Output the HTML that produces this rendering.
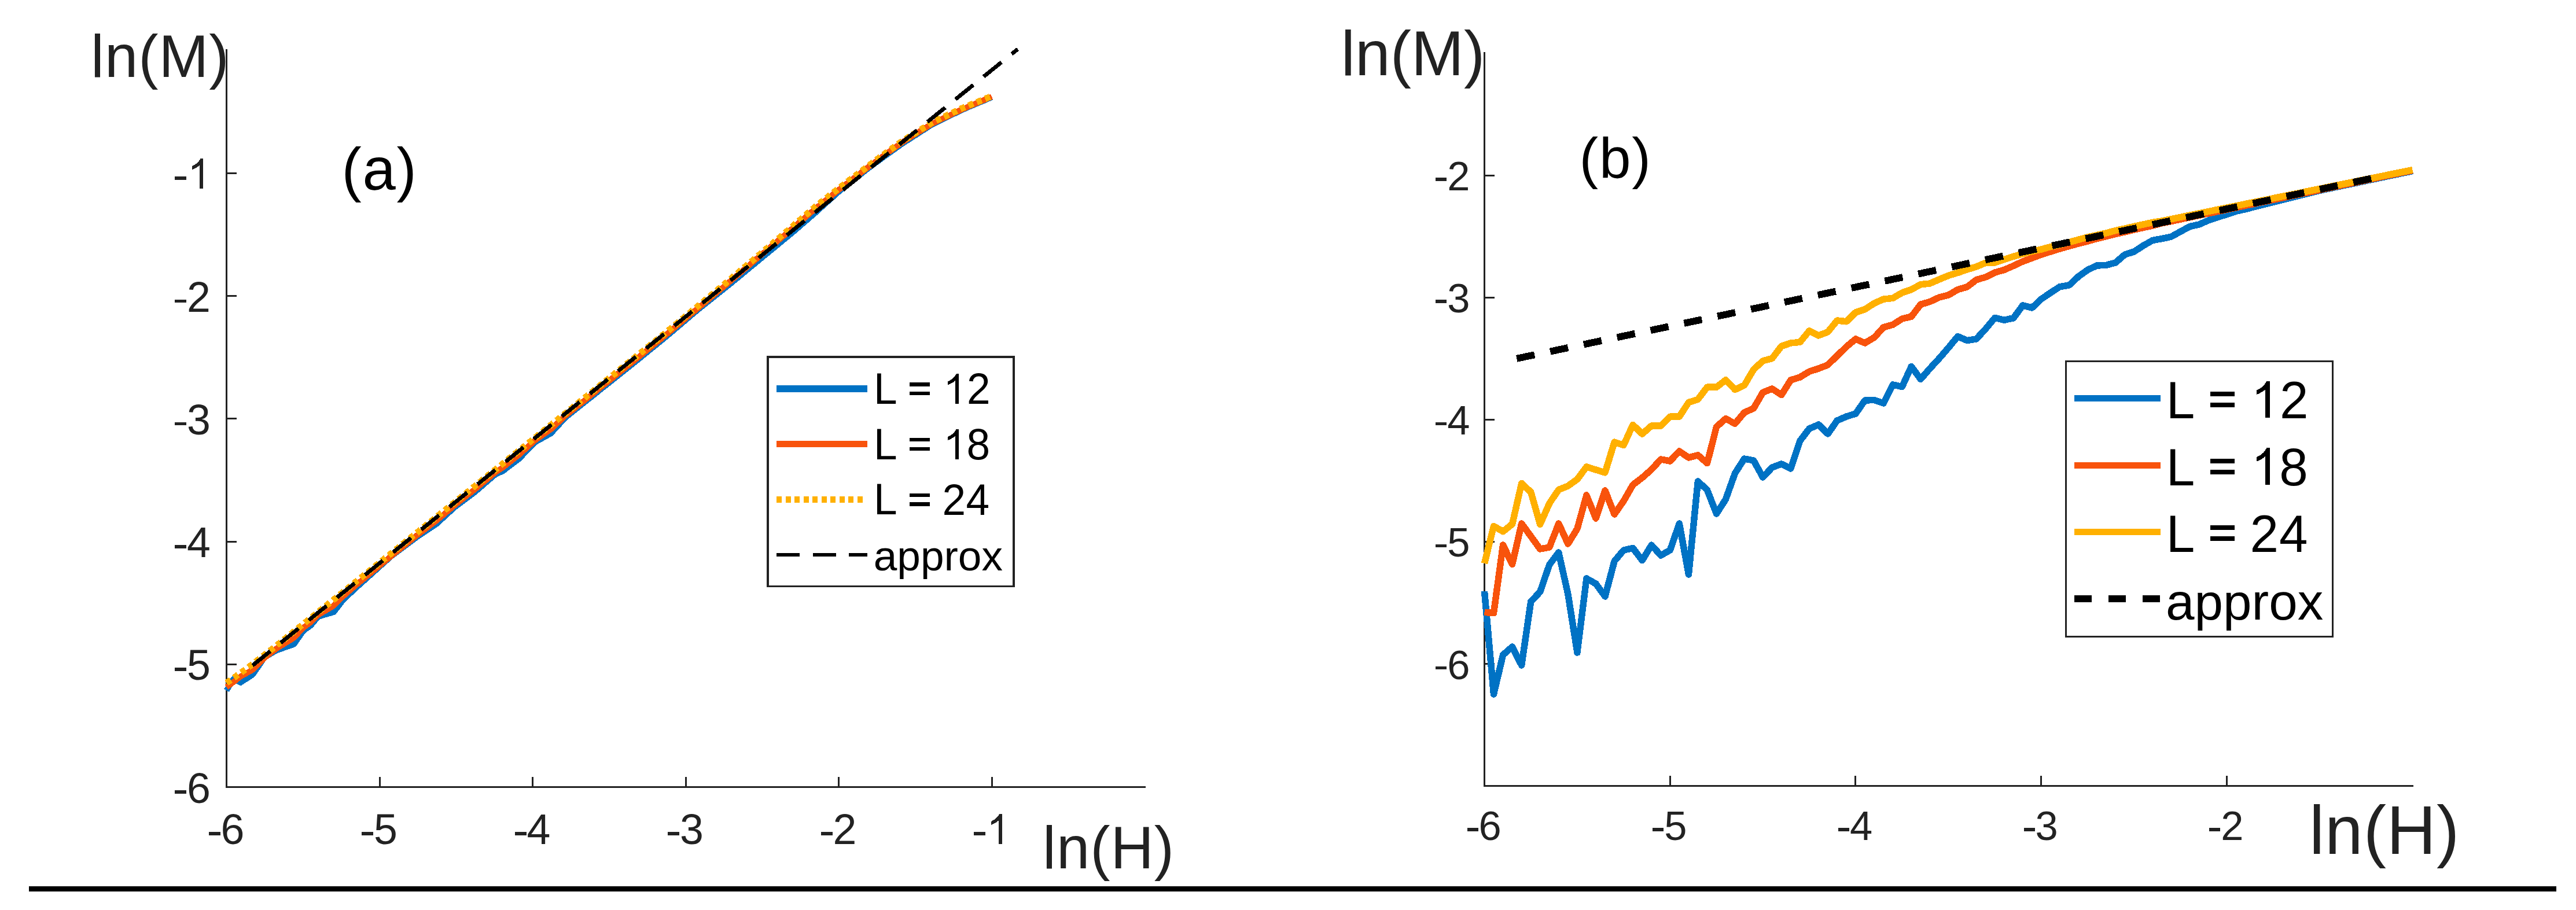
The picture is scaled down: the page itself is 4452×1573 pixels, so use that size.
<!DOCTYPE html>
<html><head><meta charset="utf-8"><title>ln(M) vs ln(H)</title>
<style>html,body{margin:0;padding:0;background:#fff;overflow:hidden}svg{display:block}</style>
</head><body>
<svg width="4452" height="1573" viewBox="0 0 4452 1573" shape-rendering="crispEdges">
<rect width="4452" height="1573" fill="#fff"/>
<g fill="none" stroke="#222222" stroke-width="3">
<path d="M391.5,85 V1360.5 H1980"/>
<path d="M393,1148.3 H409"/>
<path d="M393,936.1 H409"/>
<path d="M393,723.9 H409"/>
<path d="M393,511.7 H409"/>
<path d="M393,299.5 H409"/>
<path d="M656,1359 V1343"/>
<path d="M920.5,1359 V1343"/>
<path d="M1185,1359 V1343"/>
<path d="M1449.5,1359 V1343"/>
<path d="M1714,1359 V1343"/>
</g>
<g fill="#222222" font-family="Liberation Sans, sans-serif" font-size="73.5">
<rect x="302" y="1366.3" width="20" height="5.7"/>
<text x="364" y="1387.6" text-anchor="end" transform="matrix(1 0 0 1.0100 0 -13.9)">6</text>
<rect x="302" y="1154.1" width="20" height="5.7"/>
<text x="364" y="1175.4" text-anchor="end" transform="matrix(1 0 0 1.0100 0 -11.8)">5</text>
<rect x="302" y="941.9" width="20" height="5.7"/>
<text x="364" y="963.2" text-anchor="end" transform="matrix(1 0 0 1.0100 0 -9.6)">4</text>
<rect x="302" y="729.7" width="20" height="5.7"/>
<text x="364" y="751" text-anchor="end" transform="matrix(1 0 0 1.0100 0 -7.5)">3</text>
<rect x="302" y="517.5" width="20" height="5.7"/>
<text x="364" y="538.8" text-anchor="end" transform="matrix(1 0 0 1.0100 0 -5.4)">2</text>
<rect x="302" y="305.3" width="20" height="5.7"/>
<path d="M764 0H589V1133Q480 1030 228 923V1095Q470 1210 560 1350L636 1466H764Z" fill="#222222" transform="translate(324,326) scale(0.03540,-0.03540)"/>
<rect x="360.9" y="1437.9" width="19.6" height="5.7"/>
<text x="381.5" y="1458.9" transform="matrix(1 0 0 1.0100 0 -14.6)">6</text>
<rect x="625.4" y="1437.9" width="19.6" height="5.7"/>
<text x="646" y="1458.9" transform="matrix(1 0 0 1.0100 0 -14.6)">5</text>
<rect x="889.9" y="1437.9" width="19.6" height="5.7"/>
<text x="910.5" y="1458.9" transform="matrix(1 0 0 1.0100 0 -14.6)">4</text>
<rect x="1154.4" y="1437.9" width="19.6" height="5.7"/>
<text x="1175" y="1458.9" transform="matrix(1 0 0 1.0100 0 -14.6)">3</text>
<rect x="1418.9" y="1437.9" width="19.6" height="5.7"/>
<text x="1439.5" y="1458.9" transform="matrix(1 0 0 1.0100 0 -14.6)">2</text>
<rect x="1683.4" y="1437.9" width="19.6" height="5.7"/>
<path d="M764 0H589V1133Q480 1030 228 923V1095Q470 1210 560 1350L636 1466H764Z" fill="#222222" transform="translate(1704.9,1458.6) scale(0.03540,-0.03540)"/>
</g>
<text x="157.1" y="132.9" fill="#222222" font-family="Liberation Sans, sans-serif" font-size="103" letter-spacing="1.0">ln(M)</text>
<text x="1802" y="1501.1" fill="#222222" font-family="Liberation Sans, sans-serif" font-size="103" letter-spacing="1.0">ln(H)</text>
<text x="590.5" y="328.4" fill="#000" font-family="Liberation Sans, sans-serif" font-size="103" letter-spacing="1.75">(a)</text>
<g fill="none" stroke-linejoin="round">
<polyline points="391.5,1193.5 403,1174.3 416,1179.8 437,1165.9 457,1136.8 477,1124.7 508,1113.7 524,1090.8 537,1081.3 550,1065.9 577,1058.1 593,1037.2 615,1016.5 677,960.9 721,928.1 754,906 787,875.9 820,851.3 856,820.3 869,814.4 897,793.3 924,764.9 952,749.4 977,722.1 1013.1,693.2 1026.3,682.7 1039.5,672.1 1052.8,661.5 1066,651 1079.2,640.4 1092.4,629.8 1105.7,619.2 1118.9,608.4 1132.1,597.7 1145.3,587 1158.5,575.9 1171.8,564.7 1185,553.4 1198.2,542.2 1211.5,531.2 1224.7,520.7 1237.9,510.1 1251.1,499.6 1264.3,488.9 1277.6,478 1290.8,467 1304,456.1 1317.2,445.2 1330.5,434.3 1343.7,423.4 1356.9,412.5 1370.2,401.6 1383.4,390.2 1396.6,378.7 1409.8,367.3 1423,355.3 1436.3,343.4 1449.5,331.5 1462.7,320.8 1476,310.4 1489.2,300 1502.4,289.6 1515.6,279.9 1528.8,270.3 1542.1,260.8 1555.3,251.3 1568.5,242.5 1581.8,234 1595,225.5 1608.2,216.9 1621.4,210.1 1634.7,203.6 1647.9,197.2 1661.1,190.8 1674.3,185 1687.5,179.4 1700.8,173.8 1714,168.1" stroke="#0072C4" stroke-width="10"/>
<polyline points="391.5,1188 403,1179.2 416,1169.3 437,1157.6 457,1137.3 477,1121.6 508,1102.5 524,1085.4 537,1075.4 550,1062.9 577,1046.9 593,1030.7 615,1011.7 677,960.5 721,925.1 754,900.3 787,872.3 820,846.5 856,816.7 869,808.1 897,786.2 924,761.6 952,742 977,718.9 1013.1,689.9 1026.3,679.3 1039.5,668.7 1052.8,658.1 1066,647.5 1079.2,636.8 1092.4,626.2 1105.7,615.6 1118.9,604.9 1132.1,594.2 1145.3,583.5 1158.5,572.4 1171.8,561.4 1185,550.4 1198.2,539.4 1211.5,528.5 1224.7,517.5 1237.9,506.5 1251.1,495.5 1264.3,484.2 1277.6,473 1290.8,461.8 1304,450.5 1317.2,439.3 1330.5,428.1 1343.7,416.8 1356.9,405.5 1370.2,394.1 1383.4,382.8 1396.6,371.5 1409.8,360.2 1423,349.5 1436.3,338.9 1449.5,328.2 1462.7,318 1476,307.8 1489.2,297.7 1502.4,287.5 1515.6,277.8 1528.8,268.1 1542.1,258.4 1555.3,248.8 1568.5,240.2 1581.8,232 1595,223.7 1608.2,215.5 1621.4,208.7 1634.7,202.4 1647.9,196.1 1661.1,189.8 1674.3,184 1687.5,178.4 1700.8,172.8 1714,167.1" stroke="#F8530C" stroke-width="10"/>
<polyline points="391.5,1180.5 404.7,1171.2 417.9,1161.8 431.2,1152.1 444.4,1141.9 457.6,1131.7 470.9,1121.5 484.1,1111 497.3,1100.3 510.5,1089.7 523.8,1079.1 537,1068.4 550.2,1057.8 563.4,1047.2 576.6,1036.5 589.9,1025.9 603.1,1015.3 616.3,1004.6 629.5,994 642.8,983.4 656,972.7 669.2,962.1 682.5,951.5 695.7,940.8 708.9,930.2 722.1,919.6 735.3,908.9 748.6,898.3 761.8,887.7 775,877 788.2,866.4 801.5,855.7 814.7,845.1 827.9,834.5 841.1,823.8 854.4,813.2 867.6,802.6 880.8,791.9 894,781.3 907.3,770.7 920.5,760 933.7,749.4 946.9,738.8 960.2,728.1 973.4,717.5 986.6,706.9 999.9,696.2 1013.1,685.6 1026.3,675 1039.5,664.3 1052.8,653.7 1066,643.1 1079.2,632.4 1092.4,621.8 1105.7,611.2 1118.9,600.5 1132.1,589.9 1145.3,579.3 1158.5,568.4 1171.8,557.5 1185,546.6 1198.2,535.7 1211.4,524.8 1224.7,513.8 1237.9,502.9 1251.1,492 1264.3,480.8 1277.6,469.7 1290.8,458.5 1304,447.4 1317.2,436.2 1330.5,425.1 1343.7,413.7 1356.9,402.3 1370.2,390.9 1383.4,379.5 1396.6,368.1 1409.8,356.7 1423,346.3 1436.3,335.9 1449.5,325.6 1462.7,315.5 1476,305.5 1489.2,295.5 1502.4,285.5 1515.6,275.7 1528.8,266.1 1542.1,256.4 1555.3,246.8 1568.5,238.2 1581.8,230 1595,221.7 1608.2,213.5 1621.4,206.7 1634.6,200.4 1647.9,194.1 1661.1,187.8 1674.3,182.2 1687.5,176.9 1700.8,171.5 1714,166.1" stroke="#FFB000" stroke-width="11" stroke-dasharray="9 6.5"/>
<line x1="436.5" y1="1150.3" x2="1759" y2="84.9" stroke="#000" stroke-width="6.8" stroke-dasharray="39.5 22.9"/>
</g>
<rect x="1327" y="616.8" width="425" height="396.8" fill="#fff" stroke="#222222" stroke-width="3.6"/>
<g fill="none">
<path d="M1342,671.8 H1499" stroke="#0072C4" stroke-width="12"/>
<path d="M1342,767.4 H1499" stroke="#F8530C" stroke-width="11"/>
<path d="M1342,863 H1492" stroke="#FFB000" stroke-width="11" stroke-dasharray="9 6.56"/>
<path d="M1342,959 H1499" stroke="#000" stroke-width="6.2" stroke-dasharray="40 22.5"/>
</g>
<g fill="#000" font-family="Liberation Sans, sans-serif" font-size="73">
<text x="1510" y="698.3" transform="matrix(1 0 0 1.0300 0 -20.9)">L</text>
<rect x="1572" y="676.9" width="35" height="6.5" fill="#000"/><rect x="1572" y="661.3" width="35" height="6.5" fill="#000"/>
<path d="M764 0H589V1133Q480 1030 228 923V1095Q470 1210 560 1350L636 1466H764Z" fill="#000" transform="translate(1630.2,698.1) scale(0.03540,-0.03540)"/>
<text x="1671" y="698.3" transform="matrix(1 0 0 1.0300 0 -20.9)">2</text>
<text x="1510" y="793.9" transform="matrix(1 0 0 1.0300 0 -23.8)">L</text>
<rect x="1572" y="772.5" width="35" height="6.5" fill="#000"/><rect x="1572" y="756.9" width="35" height="6.5" fill="#000"/>
<path d="M764 0H589V1133Q480 1030 228 923V1095Q470 1210 560 1350L636 1466H764Z" fill="#000" transform="translate(1630.2,793.7) scale(0.03540,-0.03540)"/>
<text x="1670.5" y="793.9" transform="matrix(1 0 0 1.0300 0 -23.8)">8</text>
<text x="1510" y="889.5" transform="matrix(1 0 0 1.0300 0 -26.7)">L</text>
<rect x="1572" y="868.1" width="35" height="6.5" fill="#000"/><rect x="1572" y="852.5" width="35" height="6.5" fill="#000"/>
<text x="1628.4" y="889.7" transform="matrix(1 0 0 1.0300 0 -26.7)">2</text>
<text x="1669.5" y="889.7" transform="matrix(1 0 0 1.0300 0 -26.7)">4</text>
<text x="1509.7" y="985.5">approx</text>
</g>
<g fill="none" stroke="#222222" stroke-width="3">
<path d="M2565.5,90 V1358.5 H4171"/>
<path d="M2567,1147.5 H2583"/>
<path d="M2567,936.3 H2583"/>
<path d="M2567,725.2 H2583"/>
<path d="M2567,514.1 H2583"/>
<path d="M2567,303 H2583"/>
<path d="M2886.2,1357 V1341"/>
<path d="M3206.9,1357 V1341"/>
<path d="M3527.6,1357 V1341"/>
<path d="M3848.3,1357 V1341"/>
</g>
<g fill="#222222" font-family="Liberation Sans, sans-serif" font-size="70.5">
<rect x="2480.9" y="1151.8" width="19.1" height="5.4"/>
<text x="2540.5" y="1173.6" text-anchor="end">6</text>
<rect x="2480.9" y="940.6" width="19.1" height="5.4"/>
<text x="2540.5" y="962.4" text-anchor="end">5</text>
<rect x="2480.9" y="729.5" width="19.1" height="5.4"/>
<text x="2540.5" y="751.3" text-anchor="end">4</text>
<rect x="2480.9" y="518.4" width="19.1" height="5.4"/>
<text x="2540.5" y="540.2" text-anchor="end">3</text>
<rect x="2480.9" y="307.3" width="19.1" height="5.4"/>
<text x="2540.5" y="329.1" text-anchor="end">2</text>
<rect x="2535.5" y="1430.9" width="19" height="6"/>
<text x="2555.5" y="1452">6</text>
<rect x="2856.2" y="1430.9" width="19" height="6"/>
<text x="2876.2" y="1452">5</text>
<rect x="3176.9" y="1430.9" width="19" height="6"/>
<text x="3196.9" y="1452">4</text>
<rect x="3497.6" y="1430.9" width="19" height="6"/>
<text x="3517.6" y="1452">3</text>
<rect x="3818.3" y="1430.9" width="19" height="6"/>
<text x="3838.3" y="1452">2</text>
</g>
<text x="2317.7" y="130" fill="#222222" font-family="Liberation Sans, sans-serif" font-size="109" letter-spacing="0.1">ln(M)</text>
<text x="3991" y="1475.9" fill="#222222" font-family="Liberation Sans, sans-serif" font-size="118" letter-spacing="0.9">ln(H)</text>
<text x="2729.6" y="307" fill="#000" font-family="Liberation Sans, sans-serif" font-size="98" letter-spacing="1.8">(b)</text>
<g fill="none" stroke-linejoin="round">
<polyline points="2565.5,1022 2581.5,1200 2597.6,1132 2613.6,1118 2629.7,1150 2645.7,1040 2661.7,1023 2677.8,976 2693.8,955 2709.9,1027 2725.9,1128 2741.9,1000 2758,1009 2774,1031 2790.1,970 2806.1,951 2822.1,947.5 2838.2,968.6 2854.2,942.2 2870.3,960 2886.3,951 2902.3,905 2918.4,993 2934.4,832 2950.5,847 2966.5,888 2982.5,863 2998.6,818 3014.6,793 3030.7,796 3046.7,825 3062.7,808 3078.8,802 3094.8,810 3110.9,762 3126.9,741 3142.9,734 3159,750 3175,727 3191.1,720 3207.1,715 3223.1,692 3239.2,691.5 3255.2,697 3271.3,665 3287.3,668.5 3303.3,633.5 3319.4,655.5 3335.4,637 3351.5,619.5 3367.5,601 3383.5,581.5 3399.6,588.5 3415.6,586 3431.7,568.5 3447.7,549.3 3463.7,553.3 3479.8,549.8 3495.8,528 3511.9,532 3527.9,517 3543.9,506 3560,495.6 3576,493 3592.1,478 3608.1,466.5 3624.1,459 3640.2,458.3 3656.2,454 3672.3,440 3688.3,435 3704.3,424.5 3720.4,415.4 3736.4,412.6 3752.5,409.1 3768.5,400.3 3784.5,391.5 3800.6,388 3816.6,381 3832.7,375.7 3848.7,370.4 3864.7,365.2 3880.8,361.6 3896.8,357.4 3912.9,353.4 3928.9,349.4 3944.9,345.4 3961,341.4 3977,337.4 3993.1,333.4 4009.1,329.4 4025.1,326 4041.2,322.6 4057.2,319.2 4073.3,315.9 4089.3,312.5 4105.3,309.1 4121.4,305.7 4137.4,302.3 4153.5,299 4169.5,295.6" stroke="#0072C4" stroke-width="11.5"/>
<polyline points="2565.5,1058.3 2581.5,1059.7 2597.6,942 2613.6,975.5 2629.7,905 2645.7,927 2661.7,949 2677.8,946 2693.8,905 2709.9,940 2725.9,914 2741.9,856 2758,896 2774,848 2790.1,889 2806.1,866 2822.1,838 2838.2,825.7 2854.2,811.6 2870.3,794 2886.3,797 2902.3,780 2918.4,791 2934.4,786.7 2950.5,800.7 2966.5,737.8 2982.5,723.7 2998.6,732.4 3014.6,713 3030.7,705.9 3046.7,678.3 3062.7,672 3078.8,682.7 3094.8,657 3110.9,652 3126.9,642.3 3142.9,637 3159,630.8 3175,615 3191.1,599.2 3207.1,586 3223.1,593 3239.2,583.4 3255.2,565.8 3271.3,561.3 3287.3,551 3303.3,547.3 3319.4,526.2 3335.4,521.5 3351.5,514 3367.5,510 3383.5,500.5 3399.6,496 3415.6,483.7 3431.7,479 3447.7,471 3463.7,466.5 3479.8,459.5 3495.8,452 3511.9,446 3527.9,440 3543.9,435 3560,430 3576,425.5 3592.1,421 3608.1,417 3624.1,412.5 3640.2,408.5 3656.2,404.5 3672.3,401 3688.3,397 3704.3,393.5 3720.4,390 3736.4,385.8 3752.5,382.5 3768.5,379.1 3784.5,375.7 3800.6,372.3 3816.6,368.9 3832.7,365.6 3848.7,362.2 3864.7,358.8 3880.8,355.4 3896.8,352 3912.9,348.7 3928.9,345.3 3944.9,341.9 3961,338.5 3977,335.1 3993.1,331.8 4009.1,328.4 4025.1,325 4041.2,321.6 4057.2,318.2 4073.3,314.9 4089.3,311.5 4105.3,308.1 4121.4,304.7 4137.4,301.3 4153.5,298 4169.5,294.6" stroke="#F8530C" stroke-width="11.5"/>
<polyline points="2565.5,974 2581.5,909.5 2597.6,918.7 2613.6,906 2629.7,835.5 2645.7,850.5 2661.7,906.4 2677.8,870 2693.8,846.5 2709.9,840 2725.9,828.5 2741.9,807 2758,812 2774,816.9 2790.1,764.2 2806.1,769.4 2822.1,734.3 2838.2,750.1 2854.2,736 2870.3,736 2886.3,720.2 2902.3,720.2 2918.4,695.6 2934.4,690.3 2950.5,669.2 2966.5,669.2 2982.5,656.9 2998.6,673.5 3014.6,666 3030.7,638.8 3046.7,623.8 3062.7,619.5 3078.8,598.4 3094.8,593 3110.9,591.3 3126.9,572 3142.9,580 3159,573.8 3175,554 3191.1,555.8 3207.1,540 3223.1,534.7 3239.2,524.2 3255.2,517.1 3271.3,515.4 3287.3,506 3303.3,500.5 3319.4,491.7 3335.4,490 3351.5,483 3367.5,476.3 3383.5,471.5 3399.6,466 3415.6,461 3431.7,454.3 3447.7,453.9 3463.7,448.6 3479.8,443.3 3495.8,438.9 3511.9,434.5 3527.9,431 3543.9,426.6 3560,423.1 3576,418.7 3592.1,414.3 3608.1,409.9 3624.1,406.4 3640.2,402.9 3656.2,398.5 3672.3,395 3688.3,391.4 3704.3,387.9 3720.4,384.4 3736.4,381.9 3752.5,378.7 3768.5,375.4 3784.5,372.1 3800.6,368.8 3816.6,365.6 3832.7,362.3 3848.7,359 3864.7,355.8 3880.8,352.5 3896.8,349.2 3912.9,345.9 3928.9,342.7 3944.9,339.4 3961,336.1 3977,332.9 3993.1,329.6 4009.1,326.3 4025.1,323 4041.2,319.8 4057.2,316.5 4073.3,313.2 4089.3,309.9 4105.3,306.7 4121.4,303.4 4137.4,300.1 4153.5,296.9 4169.5,293.6" stroke="#FFB000" stroke-width="11.5"/>
<line x1="2621.3" y1="619.8" x2="4098" y2="308.6" stroke="#000" stroke-width="12" stroke-dasharray="31.6 27.5"/>
</g>
<rect x="3570.6" y="624.2" width="461.2" height="476.3" fill="#fff" stroke="#222222" stroke-width="3.2"/>
<g fill="none">
<path d="M3585,688.5 H3734" stroke="#0072C4" stroke-width="11"/>
<path d="M3585,804.1 H3734" stroke="#F8530C" stroke-width="11"/>
<path d="M3585,919.7 H3734" stroke="#FFB000" stroke-width="11"/>
<path d="M3585,1035.3 H3734" stroke="#000" stroke-width="11.7" stroke-dasharray="30 29.2"/>
</g>
<g fill="#000" font-family="Liberation Sans, sans-serif" font-size="89">
<text x="3743.7" y="723" transform="matrix(1 0 0 1.0300 0 -21.7)">L</text>
<rect x="3819.9" y="696.1" width="41.9" height="8" fill="#000"/><rect x="3819.9" y="677.2" width="41.9" height="8" fill="#000"/>
<path d="M764 0H589V1133Q480 1030 228 923V1095Q470 1210 560 1350L636 1466H764Z" fill="#000" transform="translate(3890,722) scale(0.04312,-0.04312)"/>
<text x="3939.9" y="723" transform="matrix(1 0 0 1.0300 0 -21.7)">2</text>
<text x="3743.7" y="838.6" transform="matrix(1 0 0 1.0300 0 -25.2)">L</text>
<rect x="3819.9" y="811.7" width="41.9" height="8" fill="#000"/><rect x="3819.9" y="792.8" width="41.9" height="8" fill="#000"/>
<path d="M764 0H589V1133Q480 1030 228 923V1095Q470 1210 560 1350L636 1466H764Z" fill="#000" transform="translate(3890,837.6) scale(0.04312,-0.04312)"/>
<text x="3939.3" y="838.6" transform="matrix(1 0 0 1.0300 0 -25.2)">8</text>
<text x="3743.7" y="954.2" transform="matrix(1 0 0 1.0300 0 -28.6)">L</text>
<rect x="3819.9" y="927.3" width="41.9" height="8" fill="#000"/><rect x="3819.9" y="908.4" width="41.9" height="8" fill="#000"/>
<text x="3888.6" y="954" transform="matrix(1 0 0 1.0300 0 -28.6)">2</text>
<text x="3938.9" y="954" transform="matrix(1 0 0 1.0300 0 -28.6)">4</text>
<text x="3743.1" y="1070.9">approx</text>
</g>
<rect x="50" y="1532" width="4368" height="9" fill="#000"/>
</svg>
</body></html>
